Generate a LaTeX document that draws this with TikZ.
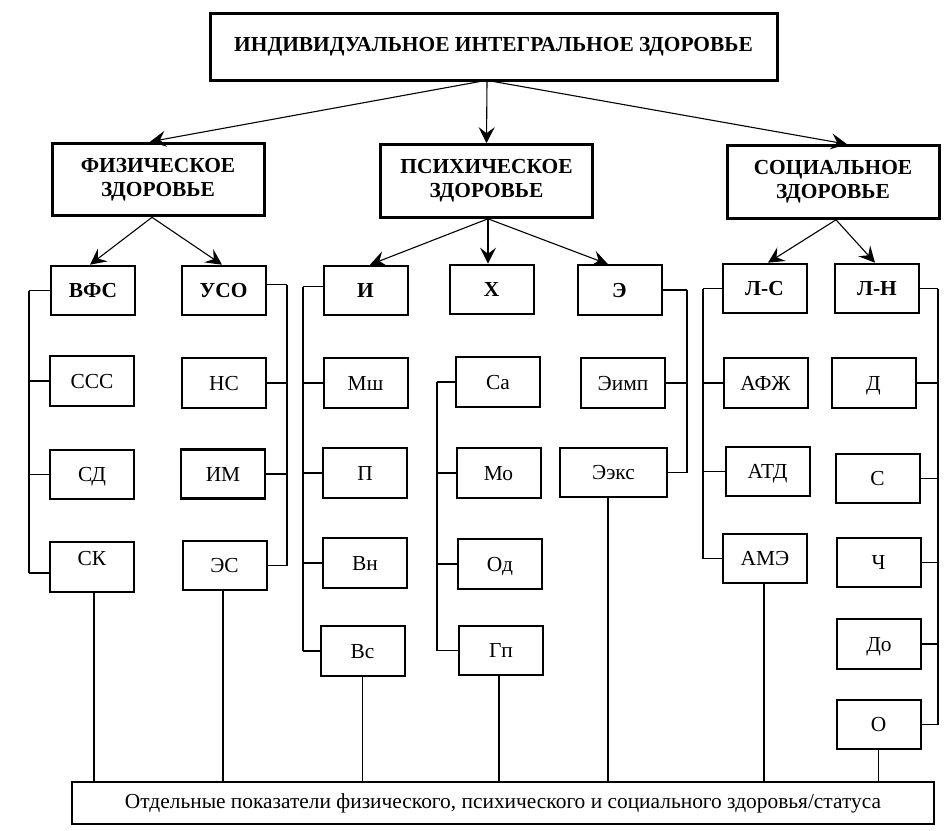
\documentclass[tikz,border=0pt]{standalone}
\usepackage{fontspec}
\setmainfont{Liberation Serif}
\usetikzlibrary{arrows.meta,calc}
\begin{document}
\begin{tikzpicture}[x=0.5pt,y=-0.5pt,
  every node/.style={font=\fontsize{10.7}{11.9}\selectfont},
  box/.style={draw, line width=1pt, minimum width=42pt, minimum height=24.8pt, inner sep=0pt, text height=7pt, text depth=0pt},
  bold/.style={font=\fontsize{10.7}{11.9}\selectfont\bfseries},
  hd/.style={draw, line width=1.5pt, minimum width=106pt, minimum height=36.3pt, inner sep=0pt, align=center, font=\fontsize{10.7}{11.9}\selectfont\bfseries},
  topbox/.style={draw, line width=1.5pt, minimum width=283.5pt, minimum height=33.5pt, inner sep=0pt, font=\fontsize{10.7}{11.9}\selectfont\bfseries},
  botbox/.style={draw, line width=1pt, minimum width=431pt, minimum height=21pt, inner sep=0pt, text height=7pt, text depth=2pt},
  arr/.style={line width=0.55pt, -{Stealth[length=8pt,width=8pt,inset=3pt]}},
  brk/.style={line width=0.9pt},
  tick/.style={line width=0.6pt},
  vl/.style={line width=0.6pt}
]
\useasboundingbox (0,0) rectangle (949,831);

% top levels
\node[topbox] (top) at (493.5,46.5) {ИНДИВИДУАЛЬНОЕ ИНТЕГРАЛЬНОЕ ЗДОРОВЬЕ};
\node[hd] (fiz) at (158,179.5) {ФИЗИЧЕСКОЕ\\ЗДОРОВЬЕ};
\node[hd] (psy) at (486.5,181) {ПСИХИЧЕСКОЕ\\ЗДОРОВЬЕ};
\node[hd] (soc) at (833,182) {СОЦИАЛЬНОЕ\\ЗДОРОВЬЕ};

% level 3
\node[box,bold] (vfs) at (93,290.5) {ВФС};
\node[box,bold] (uso) at (223.5,290.5) {УСО};
\node[box,bold] (ii) at (365.5,290.5) {И};
\node[box,bold] (kh) at (491.5,289.5) {Х};
\node[box,bold] (ee) at (619.5,290) {Э};
\node[box,bold] (ls) at (764.5,288.5) {Л-С};
\node[box,bold] (ln) at (877,288.5) {Л-Н};

% level 4
\node[box] (ccc) at (92,381) {ССС};
\node[box] (ns) at (224,383) {НС};
\node[box] (msh) at (365.5,383) {Мш};
\node[box] (sa) at (498,382) {Са};
\node[box] (eimp) at (623,383) {Эимп};
\node[box] (afzh) at (765.5,383) {АФЖ};
\node[box] (d) at (873.5,383) {Д};

% level 5
\node[box] (sd) at (92,474.5) {СД};
\node[box, line width=1.4pt] (im) at (223,474) {ИМ};
\node[box] (p) at (365,473) {П};
\node[box] (mo) at (498.5,473) {Мо};
\node[box, minimum width=53.5pt] (eeks) at (613.5,472.5) {Ээкс};
\node[box] (atd) at (767.5,471.5) {АТД};
\node[box] (s) at (877.5,478.5) {С};

% level 6
\node[box, text height=7pt, text depth=9pt] (sk) at (92,567) {СК};
\node[box] (es) at (224.5,565.5) {ЭС};
\node[box] (vn) at (365,563) {Вн};
\node[box] (od) at (500,564) {Од};
\node[box] (ame) at (765,558.5) {АМЭ};
\node[box] (ch) at (878.5,562.5) {Ч};

% level 7-8
\node[box] (vs) at (362.5,651) {Вс};
\node[box] (gp) at (501,650.5) {Гп};
\node[box] (do) at (879,644) {До};
\node[box] (o) at (878.5,724.5) {О};

% bottom
\node[botbox] (bot) at (503,803) {Отдельные показатели физического, психического и социального здоровья/статуса};

% arrows from top
\draw[arr] ($(top.south)+(-13.5,0)$) -- ($(fiz.north)+(-8,0)$);
\draw[arr] ($(top.south)+(-6.5,0)$) -- (psy.north);
\draw[arr] (top.south) -- ($(soc.north)+(14,0)$);

% arrows from headings
\draw[arr] ($(fiz.south)+(-6,0)$) -- ($(vfs.north)+(-3,0)$);
\draw[arr] ($(fiz.south)+(-6,0)$) -- ($(uso.north)+(-1.5,0)$);
\draw[arr] ($(psy.south)+(1.5,0)$) -- ($(ii.north)+(4.5,0)$);
\draw[arr] ($(psy.south)+(1.5,0)$) -- ($(kh.north)+(-3.5,0)$);
\draw[arr] ($(psy.south)+(1.5,0)$) -- ($(ee.north)+(-11.5,0)$);
\draw[arr] ($(soc.south)+(3,0)$) -- ($(ls.north)+(3.5,0)$);
\draw[arr] ($(soc.south)+(3,0)$) -- ($(ln.north)+(-2,0)$);

% brackets
\coordinate (bA) at (29,0);
\draw[brk] (vfs.west -| bA) -- ([yshift=-3pt]sk.west -| bA);
\foreach \n in {vfs,ccc,sd} \draw[tick] (\n.west) -- (\n.west -| bA);
\draw[tick] ([yshift=-3pt]sk.west) -- ([yshift=-3pt]sk.west -| bA);

\coordinate (bB) at (287,0);
\draw[brk] ([yshift=3pt]uso.east -| bB) -- (es.east -| bB);
\draw[tick] ([yshift=3pt]uso.east) -- ([yshift=3pt]uso.east -| bB);
\foreach \n in {ns,im,es} \draw[tick] (\n.east) -- (\n.east -| bB);

\coordinate (bC) at (303,0);
\draw[brk] ([yshift=2pt]ii.west -| bC) -- (vs.west -| bC);
\draw[tick] ([yshift=2pt]ii.west) -- ([yshift=2pt]ii.west -| bC);
\foreach \n in {msh,p,vn,vs} \draw[tick] (\n.west) -- (\n.west -| bC);

\coordinate (bD) at (437,0);
\draw[brk] (sa.west -| bD) -- (gp.west -| bD);
\foreach \n in {sa,mo,od,gp} \draw[tick] (\n.west) -- (\n.west -| bD);

\coordinate (bE) at (687,0);
\draw[brk] (ee.east -| bE) -- (eeks.east -| bE);
\foreach \n in {ee,eimp,eeks} \draw[tick] (\n.east) -- (\n.east -| bE);

\coordinate (bF) at (703,0);
\draw[brk] (ls.west -| bF) -- (ame.west -| bF);
\foreach \n in {ls,afzh,atd,ame} \draw[tick] (\n.west) -- (\n.west -| bF);

\coordinate (bG) at (938,0);
\draw[brk] (ln.east -| bG) -- (o.east -| bG);
\foreach \n in {ln,d,s,ch,do,o} \draw[tick] (\n.east) -- (\n.east -| bG);

% verticals to bottom box
\coordinate (v1) at ($(sk.south)+(2,0)$);
\coordinate (v2) at ($(es.south)+(-1.5,0)$);
\coordinate (v3) at (vs.south);
\coordinate (v4) at ($(gp.south)+(-2,0)$);
\coordinate (v5) at ($(eeks.south)+(-5.5,0)$);
\coordinate (v6) at ($(ame.south)+(-1,0)$);
\coordinate (v7) at (o.south);
\foreach \v in {v1,v2,v3,v4,v5,v6,v7} \draw[vl] (\v) -- (\v |- bot.north);
\end{tikzpicture}
\end{document}
